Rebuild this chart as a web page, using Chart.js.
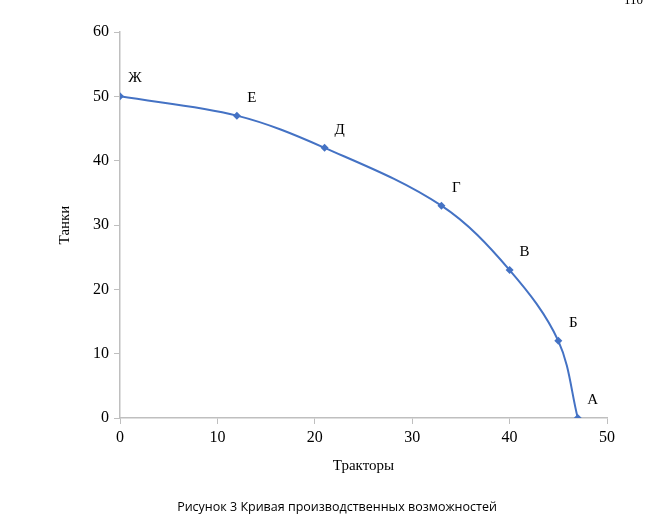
<!DOCTYPE html>
<html>
<head>
<meta charset="utf-8">
<script src="https://cdn.jsdelivr.net/npm/chart.js@4"></script>
<style>
  html, body { margin: 0; padding: 0; background: #fff; }
  #wrap { width: 655px; height: 529px; }
</style>
</head>
<body>
<div id="wrap"><canvas id="ppf"></canvas></div>
<script>
const tractors = [0, 12, 21, 33, 40, 45, 47];
const tanks = [50, 47, 42, 33, 23, 12, 0];
const pointNames = ['Ж', 'Е', 'Д', 'Г', 'В', 'Б', 'А'];
const xTitle = 'Тракторы';
const yTitle = 'Танки';
const caption = 'Рисунок 3 Кривая производственных возможностей';
const pageNo = '110';

const serif = '"Liberation Serif", "Times New Roman", serif';
const axisGray = '#bfbfbf';
const lineBlue = '#4472c4';

// Letters next to each point + caption under the chart
const labelsPlugin = {
    id: 'pointLabels',
    afterDraw(chart) {
        const ctx = chart.ctx;
        const meta = chart.getDatasetMeta(0);
        ctx.save();
        ctx.font = '15px ' + serif;
        ctx.fillStyle = '#000';
        ctx.textAlign = 'center';
        ctx.textBaseline = 'middle';
        meta.data.forEach((pt, i) => {
            ctx.fillText(pointNames[i], pt.x + 15, pt.y - 18);
        });

        ctx.font = '12.5px "Open Sans", sans-serif';
        ctx.fillText(caption, 337, 507);

        ctx.textAlign = 'left';
        ctx.textBaseline = 'alphabetic';
        ctx.font = '13px ' + serif;
        ctx.fillText(pageNo, 624, 4);
        ctx.restore();
    }
};

new Chart(document.getElementById('ppf'), {
    type: 'line',
    data: {
        datasets: [{
            data: tractors.map((x, i) => ({ x: x, y: tanks[i] })),
            borderColor: lineBlue,
            backgroundColor: lineBlue,
            borderWidth: 2,
            tension: 0.35,
            pointStyle: 'rectRot',
            pointRadius: 4,
            pointBorderWidth: 0,
            fill: false
        }]
    },
    options: {
        responsive: true,
        maintainAspectRatio: false,
        animation: false,
        layout: { padding: { left: 0, top: 32, right: 48, bottom: 54 } },
        plugins: {
            legend: { display: false },
            tooltip: { enabled: false }
        },
        scales: {
            x: {
                type: 'linear',
                min: 0,
                max: 50,
                ticks: { stepSize: 10, color: '#000', font: { family: serif, size: 16 }, padding: 4 },
                grid: { drawOnChartArea: false, color: axisGray, tickLength: 6 },
                border: { color: axisGray, width: 1.5 },
                title: { display: true, text: xTitle, color: '#000', font: { family: serif, size: 15 }, padding: { top: 0, bottom: 0 } },
                afterFit(scale) { scale.height = 57; }
            },
            y: {
                min: 0,
                max: 60,
                ticks: { stepSize: 10, color: '#000', font: { family: serif, size: 16 }, padding: 5 },
                grid: { drawOnChartArea: false, color: axisGray, tickLength: 6 },
                border: { color: axisGray, width: 1.5 },
                title: { display: true, text: yTitle, color: '#000', font: { family: serif, size: 15 }, padding: { top: 56, bottom: 0 } },
                afterFit(scale) { scale.width = 120; }
            }
        }
    },
    plugins: [labelsPlugin]
});
</script>
</body>
</html>
